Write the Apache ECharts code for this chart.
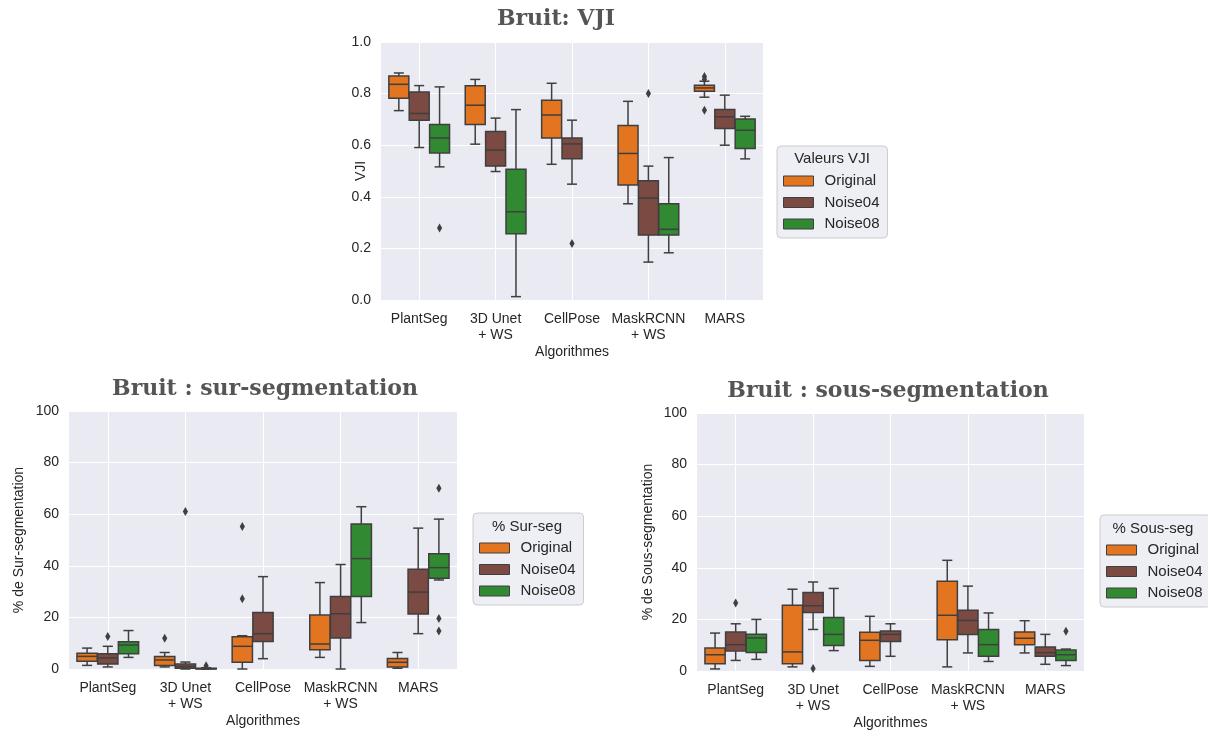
<!DOCTYPE html>
<html>
<head>
<meta charset="utf-8">
<title>Bruit</title>
<script src="https://cdn.jsdelivr.net/npm/echarts@6/dist/echarts.min.js"></script>
<style>
  html, body { margin: 0; padding: 0; background: #fff; }
  #chart { width: 1208px; height: 736px; }
</style>
</head>
<body>
<div id="chart"></div>
<script>
// categories and hue levels
const categories = ['PlantSeg', '3D Unet\n+ WS', 'CellPose', 'MaskRCNN\n+ WS', 'MARS'];
const hues = ['Original', 'Noise04', 'Noise08'];

// boxes: [min, Q1, median, Q3, max] per algorithm (null = no box)
const vjiOriginal = [[0.734, 0.782, 0.836, 0.868, 0.880], [0.604, 0.680, 0.755, 0.830, 0.855], [0.526, 0.628, 0.717, 0.774, 0.840], [0.373, 0.446, 0.568, 0.676, 0.770], [0.786, 0.809, 0.822, 0.832, 0.848]];
const vjiNoise04 = [[0.591, 0.697, 0.723, 0.806, 0.831], [0.498, 0.519, 0.581, 0.653, 0.705], [0.449, 0.547, 0.605, 0.628, 0.697], [0.147, 0.252, 0.395, 0.462, 0.519], [0.600, 0.665, 0.710, 0.738, 0.794]];
const vjiNoise08 = [[0.516, 0.570, 0.628, 0.680, 0.826], [0.013, 0.257, 0.342, 0.507, 0.738], null, [0.183, 0.252, 0.274, 0.373, 0.552], [0.547, 0.587, 0.658, 0.702, 0.712]];
// outliers: [algorithm index, value]
const vjiOutOriginal = [[4, 0.866], [4, 0.856], [4, 0.735]];
const vjiOutNoise04 = [[2, 0.219], [3, 0.800]];
const vjiOutNoise08 = [[0, 0.279]];

const surOriginal = [[1.4, 3.0, 4.9, 6.1, 8.1], [0.8, 1.4, 3.5, 4.8, 6.4], [0.0, 2.6, 8.8, 12.5, 12.9], [4.5, 7.5, 9.7, 20.9, 33.5], [0.3, 0.8, 2.6, 4.1, 6.4]];
const surNoise04 = [[0.8, 1.9, 4.3, 5.9, 8.8], [0.0, 0.3, 1.0, 1.9, 2.7], [4.0, 10.7, 13.7, 21.9, 35.8], [0.0, 12.0, 21.4, 28.1, 40.5], [13.7, 21.3, 29.8, 38.7, 54.6]];
const surNoise08 = [[4.5, 5.9, 9.3, 10.6, 14.9], [0.0, 0.0, 0.1, 0.3, 0.5], null, [18.0, 28.1, 42.8, 56.2, 62.9], [34.5, 35.2, 39.3, 44.7, 58.1]];
const surOutOriginal = [[1, 11.9], [2, 55.2], [2, 27.2]];
const surOutNoise04 = [[0, 12.6], [1, 61.0]];
const surOutNoise08 = [[1, 1.3], [4, 70.1], [4, 19.6], [4, 14.7]];

const sousOriginal = [[0.8, 2.8, 6.3, 8.9, 14.7], [1.6, 2.8, 7.4, 25.5, 31.7], [1.8, 4.1, 11.9, 15.0, 21.2], [1.6, 12.1, 21.6, 34.8, 42.9], [7.0, 10.2, 12.7, 15.1, 19.5]];
const sousNoise04 = [[4.1, 7.8, 10.2, 15.1, 18.3], [16.1, 22.7, 25.3, 30.4, 34.5], [5.7, 11.4, 14.2, 15.5, 18.3], [7.0, 14.1, 19.6, 23.5, 32.9], [2.6, 5.7, 7.1, 9.3, 14.2]];
const sousNoise08 = [[4.5, 7.2, 12.8, 14.2, 20.0], [7.9, 9.9, 14.2, 20.7, 32.0], null, [3.7, 5.7, 10.2, 16.1, 22.5], [2.1, 4.1, 6.3, 8.1, 8.5]];
const sousOutOriginal = [];
const sousOutNoise04 = [[0, 26.4], [1, 1.0]];
const sousOutNoise08 = [[4, 15.4]];

const vjiTicks = [0, 0.2, 0.4, 0.6, 0.8, 1.0];
const pctTicks = [0, 20, 40, 60, 80, 100];

const hueColors = ['#e37521', '#7b4b43', '#318a32'];
const edgeColor = '#3f3f3f';
const textColor = '#262626';
const sans = 'Liberation Sans';

const panels = [
  { title: 'Bruit: VJI', yName: 'VJI', legendTitle: 'Valeurs VJI', ticks: vjiTicks, fmt: v => v.toFixed(1),
    boxes: [vjiOriginal, vjiNoise04, vjiNoise08], outliers: [vjiOutOriginal, vjiOutNoise04, vjiOutNoise08],
    grid: { left: 381, top: 42, width: 382, height: 258 }, nameGap: 13, titleAt: [556, 19],
    legend: { left: 777, top: 146 }, legendTitleAt: [832, 159] },
  { title: 'Bruit : sur-segmentation', yName: '% de Sur-segmentation', legendTitle: '% Sur-seg', ticks: pctTicks, fmt: v => String(v),
    boxes: [surOriginal, surNoise04, surNoise08], outliers: [surOutOriginal, surOutNoise04, surOutNoise08],
    grid: { left: 69, top: 411, width: 388, height: 258 }, nameGap: 43, titleAt: [265, 389],
    legend: { left: 473, top: 513 }, legendTitleAt: [527, 527] },
  { title: 'Bruit : sous-segmentation', yName: '% de Sous-segmentation', legendTitle: '% Sous-seg', ticks: pctTicks, fmt: v => String(v),
    boxes: [sousOriginal, sousNoise04, sousNoise08], outliers: [sousOutOriginal, sousOutNoise04, sousOutNoise08],
    grid: { left: 697, top: 413, width: 387, height: 258 }, nameGap: 42, titleAt: [888, 391],
    legend: { left: 1100, top: 515 }, legendTitleAt: [1153, 529] }
];

// seaborn-style dodged box
function boxItem(hueIdx) {
  return function (params, api) {
    const cat = api.value(0);
    const slot = api.size([1, 0])[0] * 0.8 / hues.length;
    const cx = api.coord([cat, 0])[0] + (hueIdx - 1) * slot;
    const half = slot * 0.98 / 2;
    const cap = half * 0.5;
    const y = [1, 2, 3, 4, 5].map(d => api.coord([cat, api.value(d)])[1]);
    const ls = { stroke: edgeColor, lineWidth: 1.5 };
    return {
      type: 'group',
      children: [
        { type: 'line', shape: { x1: cx, y1: y[0], x2: cx, y2: y[1] }, style: ls },
        { type: 'line', shape: { x1: cx, y1: y[3], x2: cx, y2: y[4] }, style: ls },
        { type: 'line', shape: { x1: cx - cap, y1: y[0], x2: cx + cap, y2: y[0] }, style: ls },
        { type: 'line', shape: { x1: cx - cap, y1: y[4], x2: cx + cap, y2: y[4] }, style: ls },
        { type: 'rect', shape: { x: cx - half, y: y[3], width: half * 2, height: y[1] - y[3] },
          style: { fill: api.visual('color'), stroke: edgeColor, lineWidth: 1.5 } },
        { type: 'line', shape: { x1: cx - half, y1: y[2], x2: cx + half, y2: y[2] }, style: ls }
      ]
    };
  };
}

function flierItem(hueIdx) {
  return function (params, api) {
    const cat = api.value(0);
    const slot = api.size([1, 0])[0] * 0.8 / hues.length;
    const p = api.coord([cat, api.value(1)]);
    const cx = p[0] + (hueIdx - 1) * slot;
    return {
      type: 'polygon',
      shape: { points: [[cx, p[1] - 4.5], [cx + 2.6, p[1]], [cx, p[1] + 4.5], [cx - 2.6, p[1]]] },
      style: { fill: edgeColor }
    };
  };
}

const option = {
  animation: false,
  backgroundColor: '#ffffff',
  grid: [], xAxis: [], yAxis: [], series: [], legend: [], graphic: []
};

panels.forEach((p, pi) => {
  option.grid.push(Object.assign({ show: true, backgroundColor: '#eaeaf2', borderWidth: 0 }, p.grid));
  option.xAxis.push({
    type: 'category', gridIndex: pi, data: categories, boundaryGap: true,
    name: 'Algorithmes', nameLocation: 'middle', nameGap: 45, nameMoveOverlap: false,
    nameTextStyle: { color: textColor, fontSize: 14, fontFamily: sans },
    axisLine: { show: false }, axisTick: { show: false },
    axisLabel: { color: textColor, fontSize: 14, fontFamily: sans, lineHeight: 16, margin: 11, interval: 0 },
    splitLine: { show: true, alignWithLabel: true, lineStyle: { color: '#ffffff', width: 1 } }
  });
  option.yAxis.push({
    type: 'value', gridIndex: pi, min: p.ticks[0], max: p.ticks[p.ticks.length - 1],
    interval: p.ticks[1] - p.ticks[0],
    name: p.yName, nameLocation: 'middle', nameGap: p.nameGap, nameMoveOverlap: false,
    nameTextStyle: { color: textColor, fontSize: 14, fontFamily: sans },
    axisLine: { show: false }, axisTick: { show: false },
    axisLabel: { color: textColor, fontSize: 14, fontFamily: sans, margin: 10, formatter: p.fmt },
    splitLine: { show: true, lineStyle: { color: '#ffffff', width: 1 } }
  });
  hues.forEach((h, hi) => {
    option.series.push({
      type: 'custom', name: h, xAxisIndex: pi, yAxisIndex: pi,
      itemStyle: { color: hueColors[hi] },
      renderItem: boxItem(hi),
      encode: { x: 0, y: [1, 2, 3, 4, 5] },
      data: p.boxes[hi].map((b, i) => b ? [i].concat(b) : null).filter(Boolean)
    });
    option.series.push({
      type: 'custom', name: h, xAxisIndex: pi, yAxisIndex: pi,
      itemStyle: { color: hueColors[hi] },
      renderItem: flierItem(hi),
      encode: { x: 0, y: 1 },
      data: p.outliers[hi]
    });
  });
  option.legend.push({
    data: hues, orient: 'vertical', left: p.legend.left, top: p.legend.top,
    selectedMode: false, icon: 'rect', itemWidth: 30, itemHeight: 10, itemGap: 5.5,
    padding: [27, 8, 6, 6],
    backgroundColor: '#eeeef5', borderColor: '#cccccc', borderWidth: 1, borderRadius: 4,
    itemStyle: { borderColor: edgeColor, borderWidth: 1 },
    textStyle: { color: textColor, fontSize: 15, fontFamily: sans, lineHeight: 16, padding: [0, 0, 0, 6] }
  });
  option.graphic.push({
    type: 'text', z: 100, x: p.legendTitleAt[0], y: p.legendTitleAt[1],
    style: { text: p.legendTitle, fill: textColor, font: '15px "Liberation Sans"', textAlign: 'center', textVerticalAlign: 'middle' }
  });
  option.graphic.push({
    type: 'text', z: 100, x: p.titleAt[0], y: p.titleAt[1],
    style: { text: p.title, fill: '#555555', font: 'bold 22px "DejaVu Serif"', textAlign: 'center', textVerticalAlign: 'middle' }
  });
});

const chart = echarts.init(document.getElementById('chart'));
chart.setOption(option);
</script>
</body>
</html>
